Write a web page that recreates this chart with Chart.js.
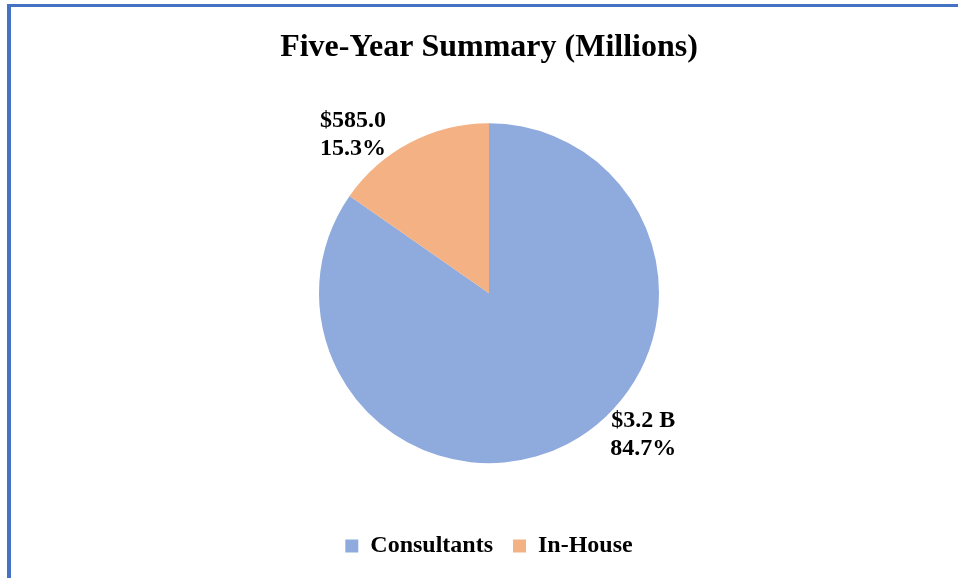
<!DOCTYPE html>
<html>
<head>
<meta charset="utf-8">
<script src="https://cdn.jsdelivr.net/npm/chart.js@4.4.0/dist/chart.umd.min.js"></script>
<style>
  html, body { margin: 0; padding: 0; background: #fff; overflow: hidden; }
  #wrap { position: relative; width: 958px; height: 578px; }
  #frame {
    position: absolute; left: 7px; top: 4px; right: -20px; bottom: -20px;
    border-left: 4px solid #4472C4; border-top: 3px solid #4472C4;
    pointer-events: none;
  }
  canvas { position: absolute; left: 0; top: 0; }
</style>
</head>
<body>
<div id="wrap">
  <canvas id="pieChart" width="958" height="578"></canvas>
  <div id="frame"></div>
</div>
<script>
// データ
var categories = ["Consultants", "In-House"];
var values = [3238, 585.0];           // millions
var colors = ["#8FAADC", "#F4B183"];
// ラベル位置（中心角からのずれ、度）
var labelShift = [-20, -13];
var labelDistance = 1.23;

var serif = "'Liberation Serif', 'Times New Roman', serif";

function moneyText(v) {
  if (v >= 1000) return "$" + (v / 1000).toFixed(1) + " B";
  return "$" + v.toFixed(1);
}

// スライスのラベル
var sliceLabels = {
  id: "sliceLabels",
  afterDatasetsDraw: function (chart) {
    var ctx = chart.ctx;
    var meta = chart.getDatasetMeta(0);
    var total = values.reduce(function (a, b) { return a + b; }, 0);
    ctx.save();
    ctx.font = "bold 24px " + serif;
    ctx.fillStyle = "#000";
    ctx.textAlign = "center";
    ctx.textBaseline = "middle";
    meta.data.forEach(function (arc, i) {
      var mid = (arc.startAngle + arc.endAngle) / 2 + labelShift[i] * Math.PI / 180;
      var d = arc.outerRadius * labelDistance;
      var x = arc.x + Math.cos(mid) * d;
      var y = arc.y + Math.sin(mid) * d;
      var pct = (values[i] / total * 100).toFixed(1) + "%";
      ctx.fillText(moneyText(values[i]), x, y - 14);
      ctx.fillText(pct, x, y + 14);
    });
    ctx.restore();
  }
};

var chart = new Chart(document.getElementById("pieChart"), {
  type: "pie",
  data: {
    labels: categories,
    datasets: [{
      data: values,
      backgroundColor: colors,
      borderWidth: 0,
      radius: 170
    }]
  },
  options: {
    responsive: false,
    animation: false,
    layout: { padding: { left: 20, right: 0, top: 0, bottom: 10 } },
    plugins: {
      title: {
        display: true,
        text: "Five-Year Summary (Millions)",
        color: "#000",
        font: { family: serif, size: 32, weight: "bold" },
        padding: { top: 29, bottom: 5 }
      },
      legend: {
        position: "bottom",
        labels: {
          color: "#000",
          font: { family: serif, size: 24, weight: "bold" },
          boxWidth: 13,
          boxHeight: 13,
          padding: 20
        }
      },
      tooltip: { enabled: false }
    }
  },
  plugins: [sliceLabels]
});
</script>
</body>
</html>
